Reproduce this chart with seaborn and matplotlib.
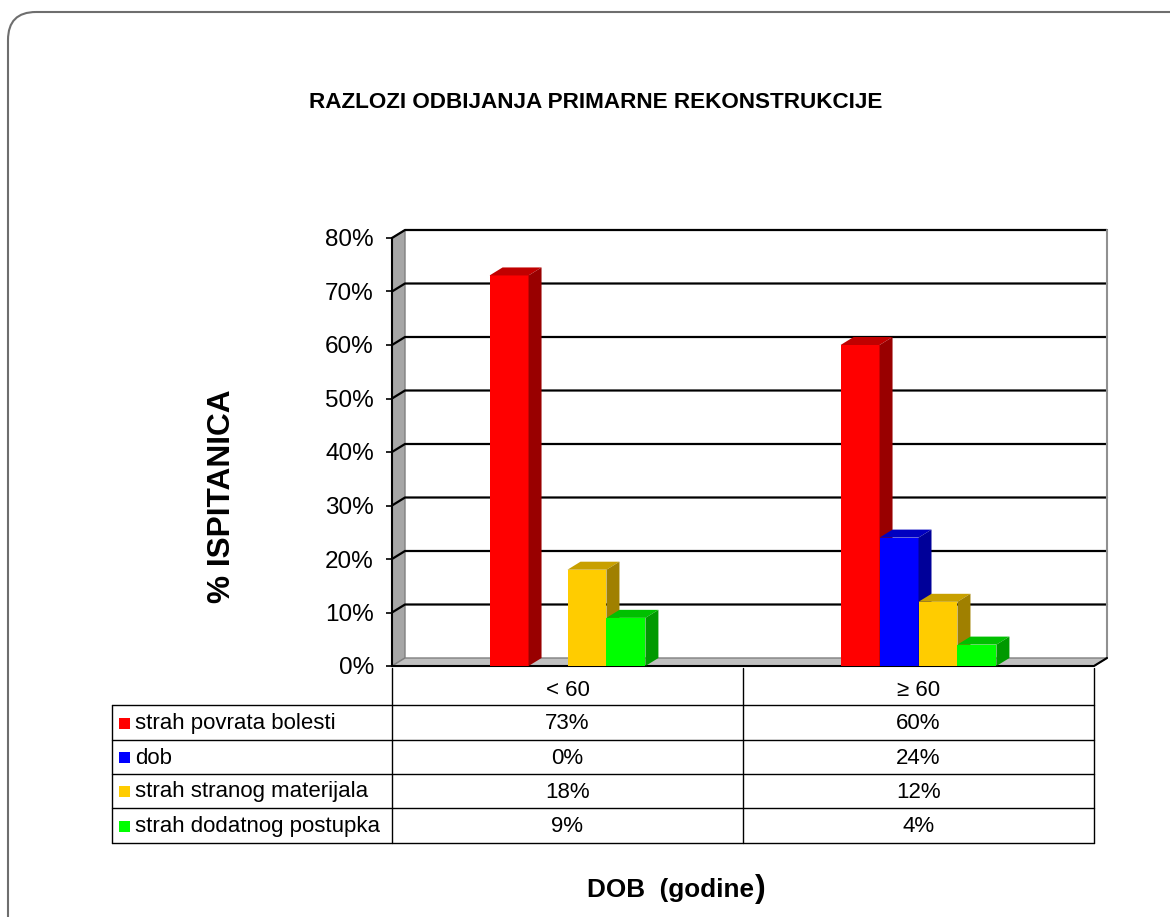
import matplotlib
matplotlib.use("Agg")
import matplotlib.pyplot as plt
from matplotlib.patches import Polygon, FancyBboxPatch, Rectangle
import seaborn as sns
import pandas as pd

sns.set_style("white")
plt.rcParams["font.family"] = ["Liberation Sans", "DejaVu Sans"]
plt.rcParams["text.color"] = "black"
plt.rcParams["ytick.color"] = "black"

# ---- data -------------------------------------------------------------
categories = ["< 60", "≥ 60"]
series_names = ["strah povrata bolesti", "dob", "strah stranog materijala",
                "strah dodatnog postupka"]
strah_povrata = [73, 60]
dob = [0, 24]
strah_materijala = [18, 12]
strah_postupka = [9, 4]
y_ticks = [0, 10, 20, 30, 40, 50, 60, 70, 80]
y_tick_labels = ["0%", "10%", "20%", "30%", "40%", "50%", "60%", "70%", "80%"]

title = "RAZLOZI ODBIJANJA PRIMARNE REKONSTRUKCIJE"
y_title = "% ISPITANICA"
x_title = "DOB  (godine"

front_colors = ["#FF0000", "#0000FF", "#FFCC00", "#00FF00"]
top_colors = ["#C00000", "#0000C0", "#C8A000", "#00C000"]
side_colors = ["#990000", "#000099", "#A08000", "#009900"]

series_values = [strah_povrata, dob, strah_materijala, strah_postupka]
df = pd.DataFrame(
    [(c, s, v[i]) for s, v in zip(series_names, series_values)
     for i, c in enumerate(categories)],
    columns=["kategorija", "razlog", "postotak"],
)

# ---- figure ------------------------------------------------------------
W, H = 1170, 917
fig = plt.figure(figsize=(W / 100, H / 100), dpi=100)

canvas = fig.add_axes([0, 0, 1, 1], zorder=0)
canvas.set_xlim(0, W)
canvas.set_ylim(H, 0)
canvas.axis("off")

# plot (front plane) in pixels
PL, PR, PB, PT = 392, 1094, 666, 238
ax = fig.add_axes([PL / W, 1 - PB / H, (PR - PL) / W, (PB - PT) / H], zorder=1)
ax.patch.set_alpha(0)

sns.barplot(data=df, x="kategorija", y="postotak", hue="razlog",
            order=categories, hue_order=series_names,
            palette=front_colors, saturation=1, width=0.444,
            linewidth=0, legend=False, ax=ax)

ax.set_xlim(-0.5, 1.5)
ax.set_ylim(0, 80)

# depth of the 3-D box in data units
DX_PX, DY_PX = 13, 8
DX = DX_PX * 2.0 / (PR - PL)
DY = DY_PX * 80.0 / (PB - PT)
x0, x1 = -0.5, 1.5

# left wall
ax.add_patch(Polygon([(x0, 0), (x0 + DX, DY), (x0 + DX, 80 + DY), (x0, 80)],
                     closed=True, facecolor="#A6A6A6", edgecolor="#808080",
                     lw=1, zorder=0.5, clip_on=False))
# floor
ax.add_patch(Polygon([(x0, 0), (x1, 0), (x1 + DX, DY), (x0 + DX, DY)],
                     closed=True, facecolor="#C0C0C0", edgecolor="#808080",
                     lw=1, zorder=0.6, clip_on=False))
ax.plot([x0, x1, x1 + DX], [0, 0, DY], color="black", lw=1.5,
        zorder=0.9, clip_on=False)
# gridlines on walls
for v in y_ticks[1:]:
    ax.plot([x0, x0 + DX, x1 + DX], [v, v + DY, v + DY], color="black",
            lw=1.6, zorder=0.7, clip_on=False)
# right edge of back wall
ax.plot([x1 + DX, x1 + DX], [DY, 80 + DY], color="#909090", lw=1.5,
        zorder=0.7, clip_on=False)

# 3-D faces of the bars
bars = sorted([p for p in ax.patches if isinstance(p, Rectangle)
               and 0 < p.get_width() < 1],
              key=lambda p: p.get_x())
for k, p in enumerate(bars):
    x, w, h = p.get_x(), p.get_width(), p.get_height()
    fc = p.get_facecolor()
    idx = min(range(4), key=lambda i: sum(abs(a - b) for a, b in
              zip(matplotlib.colors.to_rgb(front_colors[i]), fc[:3])))
    p.set_zorder(3 + 0.1 * k)
    if h <= 0:
        continue
    ax.add_patch(Polygon([(x, h), (x + w, h), (x + w + DX, h + DY), (x + DX, h + DY)],
                         closed=True, facecolor=top_colors[idx], lw=0,
                         zorder=3 + 0.1 * k + 0.05, clip_on=False))
    ax.add_patch(Polygon([(x + w, 0), (x + w + DX, DY), (x + w + DX, h + DY), (x + w, h)],
                         closed=True, facecolor=side_colors[idx], lw=0,
                         zorder=3 + 0.1 * k + 0.05, clip_on=False))

# axis styling
for s in ["top", "right", "bottom"]:
    ax.spines[s].set_visible(False)
ax.spines["left"].set_color("black")
ax.spines["left"].set_linewidth(1.5)
ax.set_yticks(y_ticks)
ax.set_yticklabels(y_tick_labels, fontsize=17.5)
ax.tick_params(axis="y", left=True, length=4, width=1.2, pad=9, color="black")
ax.set_xticks([])
ax.set_xlabel("")
ax.set_ylabel("")

# ---- data table ----------------------------------------------------------
TL = 112
col_edges = [PL, (PL + PR) / 2, PR]
rows_y = [705, 740, 774, 808, 843]
header_y = 668
lc = dict(color="black", lw=1)
for xe in col_edges:
    canvas.plot([xe, xe], [header_y, rows_y[-1]], **lc)
canvas.plot([TL, TL], [rows_y[0], rows_y[-1]], **lc)
for y in rows_y:
    canvas.plot([TL, PR], [y, y], **lc)
TFS = 16
for i, c in enumerate(categories):
    cx = (col_edges[i] + col_edges[i + 1]) / 2
    canvas.text(cx, (header_y + rows_y[0]) / 2 + 4, c, ha="center", va="center",
                fontsize=TFS)
for r, (name, vals) in enumerate(zip(series_names, series_values)):
    cy = (rows_y[r] + rows_y[r + 1]) / 2 + 1
    canvas.add_patch(Rectangle((119, cy - 6), 11, 11, facecolor=front_colors[r], lw=0))
    canvas.text(135, cy, name, ha="left", va="center", fontsize=TFS)
    for i, v in enumerate(vals):
        cx = (col_edges[i] + col_edges[i + 1]) / 2
        canvas.text(cx, cy, f"{v}%", ha="center", va="center", fontsize=TFS)

# ---- titles and frame ----------------------------------------------------
canvas.text(596, 102, title, ha="center", va="center", fontsize=16.2,
            fontweight="bold")
canvas.text(222, 496, y_title, ha="center", va="center", rotation=90,
            fontsize=22.8, fontweight="bold")
xt = canvas.text(587, 890, x_title, ha="left", va="center", fontsize=18.8,
                 fontweight="bold")
fig.canvas.draw()
bb = xt.get_window_extent()
canvas.text(bb.x1 + 1, 889, ")", ha="left", va="center", fontsize=23,
            fontweight="bold")

canvas.add_patch(FancyBboxPatch((8, 12), 1250, 1000,
                                boxstyle="round,pad=0,rounding_size=28",
                                facecolor="none", edgecolor="#6E6E6E", lw=1.5))

fig.savefig("out.png", dpi=100)
